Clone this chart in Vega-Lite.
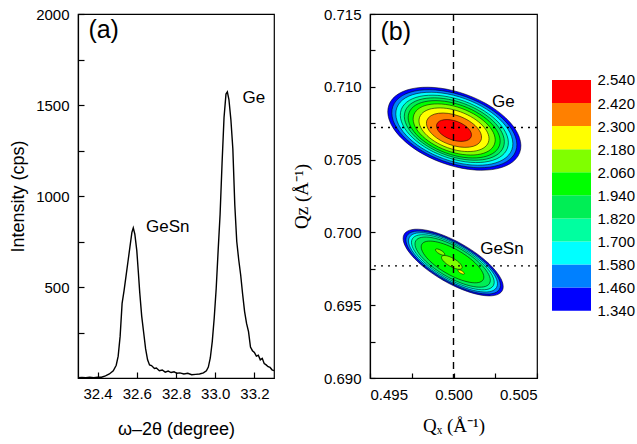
{
  "$schema": "https://vega.github.io/schema/vega-lite/v6.json",
  "background": "white",
  "padding": {"left": 9, "top": 6, "right": 2, "bottom": 2},
  "bounds": "flush",
  "spacing": 96,
  "config": {
    "view": {"stroke": "black", "strokeWidth": 1.2},
    "axis": {
      "grid": false,
      "domainColor": "black",
      "domainWidth": 1.2,
      "tickColor": "black",
      "tickWidth": 1.2,
      "labelColor": "black",
      "titleColor": "black",
      "labelFont": "Liberation Sans",
      "labelFontSize": 15,
      "titleFont": "Liberation Sans",
      "titleFontSize": 18,
      "titleFontWeight": "normal"
    },
    "text": {"font": "Liberation Sans", "color": "black"}
  },
  "datasets": {
    "xrd": [
      {"omega_2theta": 32.300, "intensity": 2},
      {"omega_2theta": 32.320, "intensity": 3},
      {"omega_2theta": 32.340, "intensity": 1},
      {"omega_2theta": 32.360, "intensity": 4},
      {"omega_2theta": 32.380, "intensity": 2},
      {"omega_2theta": 32.400, "intensity": 5},
      {"omega_2theta": 32.420, "intensity": 4},
      {"omega_2theta": 32.440, "intensity": 12},
      {"omega_2theta": 32.460, "intensity": 22},
      {"omega_2theta": 32.480, "intensity": 40},
      {"omega_2theta": 32.495, "intensity": 70},
      {"omega_2theta": 32.505, "intensity": 120},
      {"omega_2theta": 32.515, "intensity": 230},
      {"omega_2theta": 32.525, "intensity": 410},
      {"omega_2theta": 32.535, "intensity": 480},
      {"omega_2theta": 32.545, "intensity": 560},
      {"omega_2theta": 32.555, "intensity": 640},
      {"omega_2theta": 32.565, "intensity": 720},
      {"omega_2theta": 32.575, "intensity": 800},
      {"omega_2theta": 32.582, "intensity": 825},
      {"omega_2theta": 32.590, "intensity": 790},
      {"omega_2theta": 32.600, "intensity": 700},
      {"omega_2theta": 32.608, "intensity": 580},
      {"omega_2theta": 32.615, "intensity": 470},
      {"omega_2theta": 32.625, "intensity": 340},
      {"omega_2theta": 32.635, "intensity": 250},
      {"omega_2theta": 32.645, "intensity": 160},
      {"omega_2theta": 32.655, "intensity": 100},
      {"omega_2theta": 32.665, "intensity": 72},
      {"omega_2theta": 32.675, "intensity": 68},
      {"omega_2theta": 32.690, "intensity": 52},
      {"omega_2theta": 32.700, "intensity": 55},
      {"omega_2theta": 32.715, "intensity": 40},
      {"omega_2theta": 32.730, "intensity": 44},
      {"omega_2theta": 32.745, "intensity": 32},
      {"omega_2theta": 32.760, "intensity": 38},
      {"omega_2theta": 32.775, "intensity": 30},
      {"omega_2theta": 32.790, "intensity": 34},
      {"omega_2theta": 32.805, "intensity": 26},
      {"omega_2theta": 32.820, "intensity": 28},
      {"omega_2theta": 32.840, "intensity": 22},
      {"omega_2theta": 32.860, "intensity": 26},
      {"omega_2theta": 32.880, "intensity": 18},
      {"omega_2theta": 32.900, "intensity": 20},
      {"omega_2theta": 32.920, "intensity": 22},
      {"omega_2theta": 32.940, "intensity": 28},
      {"omega_2theta": 32.955, "intensity": 40},
      {"omega_2theta": 32.965, "intensity": 60},
      {"omega_2theta": 32.975, "intensity": 110},
      {"omega_2theta": 32.985, "intensity": 200},
      {"omega_2theta": 32.995, "intensity": 330},
      {"omega_2theta": 33.005, "intensity": 490},
      {"omega_2theta": 33.015, "intensity": 700},
      {"omega_2theta": 33.025, "intensity": 900},
      {"omega_2theta": 33.035, "intensity": 1180},
      {"omega_2theta": 33.045, "intensity": 1430},
      {"omega_2theta": 33.055, "intensity": 1560},
      {"omega_2theta": 33.062, "intensity": 1572},
      {"omega_2theta": 33.070, "intensity": 1530},
      {"omega_2theta": 33.080, "intensity": 1420},
      {"omega_2theta": 33.090, "intensity": 1260},
      {"omega_2theta": 33.100, "intensity": 950},
      {"omega_2theta": 33.110, "intensity": 750},
      {"omega_2theta": 33.120, "intensity": 650},
      {"omega_2theta": 33.130, "intensity": 566},
      {"omega_2theta": 33.140, "intensity": 460},
      {"omega_2theta": 33.150, "intensity": 365},
      {"omega_2theta": 33.160, "intensity": 300},
      {"omega_2theta": 33.170, "intensity": 255},
      {"omega_2theta": 33.180, "intensity": 170},
      {"omega_2theta": 33.190, "intensity": 150},
      {"omega_2theta": 33.200, "intensity": 140},
      {"omega_2theta": 33.210, "intensity": 120},
      {"omega_2theta": 33.220, "intensity": 125},
      {"omega_2theta": 33.230, "intensity": 100},
      {"omega_2theta": 33.240, "intensity": 108},
      {"omega_2theta": 33.250, "intensity": 80},
      {"omega_2theta": 33.260, "intensity": 72},
      {"omega_2theta": 33.270, "intensity": 62},
      {"omega_2theta": 33.280, "intensity": 58},
      {"omega_2theta": 33.290, "intensity": 45},
      {"omega_2theta": 33.300, "intensity": 40}
    ],
    "labels_a": [
      {"omega_2theta": 32.431, "intensity": 1912, "text": "(a)", "kind": "panel"},
      {"omega_2theta": 32.758, "intensity": 827, "text": "GeSn", "kind": "peak"},
      {"omega_2theta": 33.197, "intensity": 1540, "text": "Ge", "kind": "peak"}
    ],
    "ge": [
      {"Qx": 0.50005, "Qz": 0.70712, "level": 1.40, "semi_axis": 0.004168, "rank": 1},
      {"Qx": 0.50005, "Qz": 0.70712, "level": 1.52, "semi_axis": 0.003916, "rank": 2},
      {"Qx": 0.50005, "Qz": 0.70712, "level": 1.64, "semi_axis": 0.003665, "rank": 3},
      {"Qx": 0.50005, "Qz": 0.70711, "level": 1.76, "semi_axis": 0.003383, "rank": 4},
      {"Qx": 0.50005, "Qz": 0.70710, "level": 1.88, "semi_axis": 0.003132, "rank": 5},
      {"Qx": 0.50004, "Qz": 0.70708, "level": 2.00, "semi_axis": 0.002880, "rank": 6},
      {"Qx": 0.50004, "Qz": 0.70707, "level": 2.12, "semi_axis": 0.002569, "rank": 7},
      {"Qx": 0.50003, "Qz": 0.70705, "level": 2.24, "semi_axis": 0.002192, "rank": 8},
      {"Qx": 0.50003, "Qz": 0.70702, "level": 2.36, "semi_axis": 0.001725, "rank": 9},
      {"Qx": 0.50003, "Qz": 0.70700, "level": 2.48, "semi_axis": 0.001096, "rank": 10}
    ],
    "gesn": [
      {"Qx": 0.49998, "Qz": 0.69793, "level": 1.40, "semi_axis": 0.003389, "rank": 1},
      {"Qx": 0.49998, "Qz": 0.69793, "level": 1.52, "semi_axis": 0.003200, "rank": 2},
      {"Qx": 0.49997, "Qz": 0.69794, "level": 1.64, "semi_axis": 0.003010, "rank": 3},
      {"Qx": 0.49996, "Qz": 0.69795, "level": 1.76, "semi_axis": 0.002800, "rank": 4},
      {"Qx": 0.49995, "Qz": 0.69796, "level": 1.88, "semi_axis": 0.002550, "rank": 5},
      {"Qx": 0.49994, "Qz": 0.69797, "level": 2.00, "semi_axis": 0.002120, "rank": 6},
      {"Qx": 0.49990, "Qz": 0.69794, "level": 2.12, "semi_axis": 0.000700, "rank": 7},
      {"Qx": 0.49920, "Qz": 0.69865, "level": 2.12, "semi_axis": 0.000320, "rank": 8},
      {"Qx": 0.50046, "Qz": 0.69728, "level": 2.24, "semi_axis": 0.000220, "rank": 9}
    ],
    "vline": [{"Qx": 0.5}],
    "hlines": [{"Qz": 0.7072}, {"Qz": 0.6977}],
    "labels_b": [
      {"Qx": 0.49654, "Qz": 0.71374, "text": "(b)", "kind": "panel"},
      {"Qx": 0.50298, "Qz": 0.70896, "text": "Ge", "kind": "peak"},
      {"Qx": 0.50290, "Qz": 0.69886, "text": "GeSn", "kind": "peak"}
    ],
    "bins": [
      {"lo": 1.34, "hi": 1.46, "level": 1.40},
      {"lo": 1.46, "hi": 1.58, "level": 1.52},
      {"lo": 1.58, "hi": 1.70, "level": 1.64},
      {"lo": 1.70, "hi": 1.82, "level": 1.76},
      {"lo": 1.82, "hi": 1.94, "level": 1.88},
      {"lo": 1.94, "hi": 2.06, "level": 2.00},
      {"lo": 2.06, "hi": 2.18, "level": 2.12},
      {"lo": 2.18, "hi": 2.30, "level": 2.24},
      {"lo": 2.30, "hi": 2.42, "level": 2.36},
      {"lo": 2.42, "hi": 2.54, "level": 2.48}
    ]
  },
  "hconcat": [
    {
      "width": 196,
      "height": 364,
      "layer": [
        {
          "data": {"name": "xrd"},
          "mark": {"type": "line", "color": "black", "strokeWidth": 1.4},
          "encoding": {
            "x": {
              "field": "omega_2theta", "type": "quantitative",
              "scale": {"domain": [32.3, 33.3], "nice": false, "zero": false},
              "axis": {
                "title": "ω–2θ (degree)",
                "values": [32.4, 32.5, 32.6, 32.7, 32.8, 32.9, 33.0, 33.1, 33.2],
                "format": ".1f",
                "labelExpr": "round(datum.value * 10) % 2 == 0 ? datum.label : ''",
                "tickSize": -6,
                "labelPadding": 14,
                "titlePadding": 19
              }
            },
            "y": {
              "field": "intensity", "type": "quantitative",
              "scale": {"domain": [0, 2000], "nice": false},
              "axis": {
                "title": "Intensity (cps)",
                "values": [250, 500, 750, 1000, 1250, 1500, 1750, 2000],
                "labelExpr": "datum.value % 500 == 0 ? datum.label : ''",
                "format": "d",
                "tickSize": -6,
                "labelPadding": 15,
                "titlePadding": 8
              }
            }
          }
        },
        {
          "data": {"name": "labels_a"},
          "mark": {"type": "text"},
          "encoding": {
            "x": {"field": "omega_2theta", "type": "quantitative"},
            "y": {"field": "intensity", "type": "quantitative"},
            "text": {"field": "text"},
            "size": {
              "field": "kind", "type": "nominal",
              "scale": {"domain": ["panel", "peak"], "range": [25, 17]},
              "legend": null
            }
          }
        }
      ]
    },
    {
      "spacing": 15,
      "bounds": "flush",
      "hconcat": [
        {
          "width": 167,
          "height": 364,
          "layer": [
            {
              "data": {"name": "ge"},
              "mark": {
                "type": "point", "filled": true, "opacity": 1,
                "shape": "M -1 0 C -1 -0.287 -0.552 -0.52 0 -0.52 C 0.552 -0.52 1 -0.287 1 0 C 1 0.287 0.552 0.52 0 0.52 C -0.552 0.52 -1 0.287 -1 0 Z",
                "angle": 20, "stroke": "black", "strokeWidth": 0.5
              },
              "encoding": {
                "x": {"field": "Qx", "type": "quantitative"},
                "y": {"field": "Qz", "type": "quantitative"},
                "order": {"field": "rank", "type": "quantitative"},
                "size": {
                  "field": "semi_axis", "type": "quantitative",
                  "scale": {"type": "pow", "exponent": 2, "domain": [0, 0.005], "range": [0, 27889]},
                  "legend": null
                },
                "color": {
                  "field": "level", "type": "quantitative",
                  "scale": {
                    "type": "threshold",
                    "domain": [1.46, 1.58, 1.70, 1.82, 1.94, 2.06, 2.18, 2.30, 2.42],
                    "range": ["#0000FF", "#0080FF", "#00FFFF", "#00FFA0", "#00EE55", "#00FF00", "#80FF00", "#FFFF00", "#FF8000", "#FF0000"]
                  },
                  "legend": null
                }
              }
            },
            {
              "data": {"name": "gesn"},
              "mark": {
                "type": "point", "filled": true, "opacity": 1,
                "shape": "M -1 0 C -1 -0.199 -0.552 -0.36 0 -0.36 C 0.552 -0.36 1 -0.199 1 0 C 1 0.199 0.552 0.36 0 0.36 C -0.552 0.36 -1 0.199 -1 0 Z",
                "angle": 30, "stroke": "black", "strokeWidth": 0.5
              },
              "encoding": {
                "x": {"field": "Qx", "type": "quantitative"},
                "y": {"field": "Qz", "type": "quantitative"},
                "order": {"field": "rank", "type": "quantitative"},
                "size": {
                  "field": "semi_axis", "type": "quantitative",
                  "scale": {"type": "pow", "exponent": 2, "domain": [0, 0.005], "range": [0, 27889]},
                  "legend": null
                },
                "color": {
                  "field": "level", "type": "quantitative",
                  "scale": {
                    "type": "threshold",
                    "domain": [1.46, 1.58, 1.70, 1.82, 1.94, 2.06, 2.18, 2.30, 2.42],
                    "range": ["#0000FF", "#0080FF", "#00FFFF", "#00FFA0", "#00EE55", "#00FF00", "#80FF00", "#FFFF00", "#FF8000", "#FF0000"]
                  },
                  "legend": null
                }
              }
            },
            {
              "data": {"name": "vline"},
              "mark": {"type": "rule", "color": "black", "strokeWidth": 1.4, "strokeDash": [7, 5]},
              "encoding": {"x": {"field": "Qx", "type": "quantitative"}}
            },
            {
              "data": {"name": "hlines"},
              "mark": {"type": "rule", "color": "black", "strokeWidth": 1.4, "strokeDash": [2, 5]},
              "encoding": {"y": {"field": "Qz", "type": "quantitative"}}
            },
            {
              "data": {"name": "labels_b"},
              "mark": {"type": "text"},
              "encoding": {
                "x": {"field": "Qx", "type": "quantitative"},
                "y": {"field": "Qz", "type": "quantitative"},
                "text": {"field": "text"},
                "size": {
                  "field": "kind", "type": "nominal",
                  "scale": {"domain": ["panel", "peak"], "range": [25, 17]},
                  "legend": null
                }
              }
            }
          ],
          "encoding": {
            "x": {
              "type": "quantitative",
              "scale": {"domain": [0.495, 0.505], "nice": false, "zero": false},
              "axis": {
                "title": "Qₓ (Å⁻¹)",
                "titleFont": "Liberation Serif",
                "titleFontSize": 19,
                "values": [0.495, 0.4975, 0.5, 0.5025, 0.505],
                "format": ".3f",
                "labelExpr": "round(datum.value * 4000) % 20 == 0 ? datum.label : ''",
                "tickSize": -5,
                "labelPadding": 14,
                "titlePadding": 14
              }
            },
            "y": {
              "type": "quantitative",
              "scale": {"domain": [0.69, 0.715], "nice": false, "zero": false},
              "axis": {
                "title": "Qz (Å⁻¹)",
                "titleFont": "Liberation Serif",
                "titleFontSize": 19,
                "values": [0.69, 0.6925, 0.695, 0.6975, 0.7, 0.7025, 0.705, 0.7075, 0.71, 0.7125, 0.715],
                "format": ".3f",
                "labelExpr": "round(datum.value * 2000) % 10 == 0 ? datum.label : ''",
                "tickSize": -5,
                "labelPadding": 14,
                "titlePadding": 12
              }
            }
          }
        },
        {
          "width": 39,
          "height": 364,
          "view": {"stroke": null},
          "data": {"name": "bins"},
          "mark": {"type": "rect"},
          "encoding": {
            "y": {
              "field": "lo", "type": "quantitative",
              "scale": {"domain": [0.99, 2.883], "nice": false, "zero": false},
              "axis": {
                "orient": "right",
                "title": null,
                "values": [1.34, 1.46, 1.58, 1.70, 1.82, 1.94, 2.06, 2.18, 2.30, 2.42, 2.54],
                "format": ".3f",
                "ticks": false,
                "domain": false,
                "labelPadding": 6
              }
            },
            "y2": {"field": "hi"},
            "color": {
              "field": "level", "type": "quantitative",
              "scale": {
                "type": "threshold",
                "domain": [1.46, 1.58, 1.70, 1.82, 1.94, 2.06, 2.18, 2.30, 2.42],
                "range": ["#0000FF", "#0080FF", "#00FFFF", "#00FFA0", "#00EE55", "#00FF00", "#80FF00", "#FFFF00", "#FF8000", "#FF0000"]
              },
              "legend": null
            }
          }
        }
      ]
    }
  ]
}
